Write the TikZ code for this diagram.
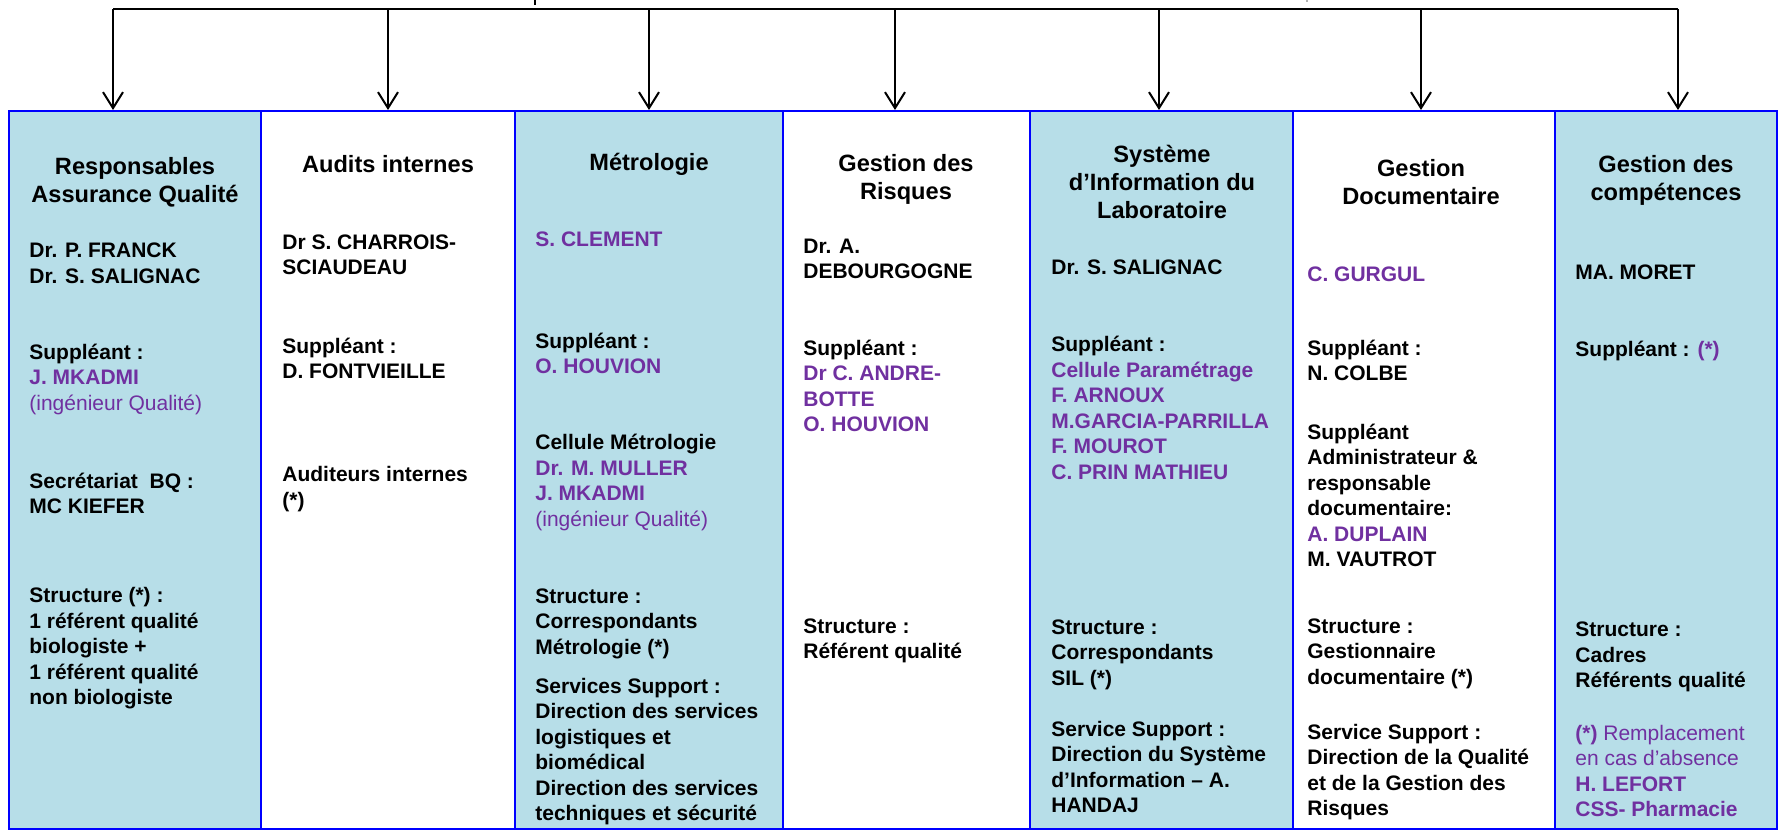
\documentclass[tikz,border=0pt]{standalone}
\usepackage{fontspec}
\setmainfont{Liberation Sans}
\usetikzlibrary{arrows.meta,fit}
\definecolor{boxfill}{HTML}{B7DEE8}
\definecolor{boxline}{HTML}{0000FF}
\definecolor{purp}{HTML}{7030A0}
\newcommand\bodyfont{\fontsize{10.5}{12.75}\selectfont\bfseries}
\newcommand\headfont{\fontsize{11.8}{14}\selectfont\bfseries}
\newcommand\pp[1]{{\color{purp}#1}}
\newcommand\lns[1]{\begin{tabular}[t]{@{}l@{}}#1\end{tabular}}
\newcommand\hds[1]{\begin{tabular}[t]{@{}c@{}}#1\end{tabular}}
\tikzset{
  colbox/.style={draw=boxline,line width=1pt,inner sep=0pt},
  arr/.style={line width=1pt,-{Straight Barb[length=8pt,width=10pt,line width=1pt]}},
  head/.style={anchor=base,inner sep=0pt,font=\headfont},
  txt/.style={anchor=base west,inner sep=0pt,font=\bodyfont}
}
\begin{document}
\begin{tikzpicture}[x=0.5pt,y=-0.5pt]
  \useasboundingbox (0,0) rectangle (1779,830);
  % columns
  \node[colbox,fill=boxfill,fit={(9,111) (261,829)}] (box1) {};
  \node[colbox,fill=white,fit={(261,111) (515,829)}] (box2) {};
  \node[colbox,fill=boxfill,fit={(515,111) (783,829)}] (box3) {};
  \node[colbox,fill=white,fit={(783,111) (1030,829)}] (box4) {};
  \node[colbox,fill=boxfill,fit={(1030,111) (1293,829)}] (box5) {};
  \node[colbox,fill=white,fit={(1293,111) (1555,829)}] (box6) {};
  \node[colbox,fill=boxfill,fit={(1555,111) (1777,829)}] (box7) {};
  % bus and arrows
  \coordinate (bus1) at (113,9);
  \coordinate (bus2) at (388,9);
  \coordinate (bus3) at (649,9);
  \coordinate (bus4) at (895,9);
  \coordinate (bus5) at (1159,9);
  \coordinate (bus6) at (1421,9);
  \coordinate (bus7) at (1678,9);
  \draw[line width=1pt] (bus1) -- (bus7);
  \foreach \i in {1,...,7}
    \draw[arr] (bus\i) -- (bus\i |- box\i.north);
  \coordinate (stubA) at (535,0);
  \coordinate (stubB) at (1307,0);
  \draw[line width=1pt] (stubA) -- ++(0,5);
  \draw[gray!60,line width=1pt] (stubB) -- ++(0,2);
  % Responsables Assurance Qualite
  \node[head] (h1) at (135,174) {\hds{Responsables\\Assurance Qualité}};
  \node[txt] (t1a) at (29,257.7) {\lns{Dr. P. FRANCK\\Dr. S. SALIGNAC}};
  \node[txt] (t1b) at (29,359) {\lns{Suppléant :\\\pp{J. MKADMI}\\\pp{\mdseries(ingénieur Qualité)}}};
  \node[txt] (t1c) at (29,488) {\lns{Secrétariat~~BQ :\\MC KIEFER}};
  \node[txt] (t1d) at (29,602.7) {\lns{Structure (*) :\\1 référent qualité\\biologiste +\\1 référent qualité\\non biologiste}};
  % Audits internes
  \node[head] (h2) at (388,172.7) {Audits internes};
  \node[txt] (t2a) at (282,249) {\lns{Dr S. CHARROIS-\\SCIAUDEAU}};
  \node[txt] (t2b) at (282,353) {\lns{Suppléant :\\D. FONTVIEILLE}};
  \node[txt] (t2c) at (282,481.7) {\lns{Auditeurs internes\\(*)}};
  % Metrologie
  \node[head] (h3) at (649,170) {Métrologie};
  \node[txt] (t3a) at (535,246.7) {\pp{S. CLEMENT}};
  \node[txt] (t3b) at (535,348) {\lns{Suppléant :\\\pp{O. HOUVION}}};
  \node[txt] (t3c) at (535,449.5) {\lns{Cellule Métrologie\\\pp{Dr. M. MULLER}\\\pp{J. MKADMI}\\\pp{\mdseries(ingénieur Qualité)}}};
  \node[txt] (t3d) at (535,603) {\lns{Structure :\\Correspondants\\Métrologie (*)}};
  \node[txt] (t3e) at (535,693) {\lns{Services Support :\\Direction des services\\logistiques et\\biomédical\\Direction des services\\techniques et sécurité}};
  % Gestion des Risques
  \node[head] (h4) at (906,171.7) {\hds{Gestion des\\Risques}};
  \node[txt] (t4a) at (803,253) {\lns{Dr. A.\\DEBOURGOGNE}};
  \node[txt] (t4b) at (803,355) {\lns{Suppléant :\\\pp{Dr C. ANDRE-}\\\pp{BOTTE}\\\pp{O. HOUVION}}};
  \node[txt] (t4c) at (803,633.3) {\lns{Structure :\\Référent qualité}};
  % SIL
  \node[head] (h5) at (1162,162.3) {\hds{Système\\d’Information du\\Laboratoire}};
  \node[txt] (t5a) at (1051,274.3) {Dr. S. SALIGNAC};
  \node[txt] (t5b) at (1051,351.7) {\lns{Suppléant :\\\pp{Cellule Paramétrage}\\\pp{F. ARNOUX}\\\pp{M.GARCIA-PARRILLA}\\\pp{F. MOUROT}\\\pp{C. PRIN MATHIEU}}};
  \node[txt] (t5c) at (1051,634) {\lns{Structure :\\Correspondants\\SIL (*)}};
  \node[txt] (t5d) at (1051,736) {\lns{Service Support :\\Direction du Système\\d’Information – A.\\HANDAJ}};
  % Gestion Documentaire
  \node[head] (h6) at (1421,176) {\hds{Gestion\\Documentaire}};
  \node[txt] (t6a) at (1307,281.7) {\pp{C. GURGUL}};
  \node[txt] (t6b) at (1307,355) {\lns{Suppléant :\\N. COLBE}};
  \node[txt] (t6c) at (1307,439.3) {\lns{Suppléant\\Administrateur \&\\responsable\\documentaire:\\\pp{A. DUPLAIN}\\M. VAUTROT}};
  \node[txt] (t6d) at (1307,633.3) {\lns{Structure :\\Gestionnaire\\documentaire (*)}};
  \node[txt] (t6e) at (1307,739.3) {\lns{Service Support :\\Direction de la Qualité\\et de la Gestion des\\Risques}};
  % Gestion des competences
  \node[head] (h7) at (1666,172.7) {\hds{Gestion des\\compétences}};
  \node[txt] (t7a) at (1575,279) {MA. MORET};
  \node[txt] (t7b) at (1575,356) {Suppléant : \pp{(*)}};
  \node[txt] (t7c) at (1575,636.7) {\lns{Structure :\\Cadres\\Référents qualité}};
  \node[txt] (t7d) at (1575,740) {\lns{\pp{(*) \mdseries Remplacement}\\\pp{\mdseries en cas d’absence}\\\pp{H. LEFORT}\\\pp{CSS- Pharmacie}}};
\end{tikzpicture}
\end{document}
